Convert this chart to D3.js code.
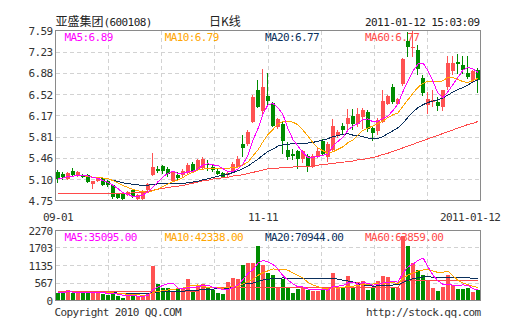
<!DOCTYPE html>
<html><head><meta charset="utf-8">
<script src="https://cdn.jsdelivr.net/npm/d3@7"></script>
<style>
html,body{margin:0;padding:0;background:#fff;}
svg{display:block;}
</style></head>
<body>
<svg id="chart" width="505" height="330"></svg>
<script>
const stockName = "亚盛集团";
const stockCode = "(600108)";
const chartTitle = "日K线";
const timestamp = "2011-01-12 15:03:09";

const opens = [5.23,5.19,5.11,5.25,5.16,5.18,5.17,5.02,5.08,5.12,
 5.08,5.01,4.86,4.86,4.84,4.92,4.78,4.78,4.93,5.17,
 5.28,5.32,5.28,5.08,5.18,5.17,5.21,5.36,5.28,5.29,
 5.36,5.31,5.25,5.21,5.17,5.25,5.31,5.69,5.70,6.06,
 6.60,6.24,6.50,6.38,5.98,6.03,5.60,5.53,5.58,5.45,
 5.50,5.31,5.50,5.75,5.48,5.59,5.85,5.99,6.02,6.16,
 6.02,6.14,6.23,5.96,5.91,6.06,6.37,6.65,6.37,6.69,
 7.42,7.31,7.27,6.80,6.34,6.39,6.39,6.31,6.64,6.91,
 7.06,7.01,6.88,6.76,6.93];
const highs = [5.26,5.22,5.23,5.30,5.24,5.20,5.20,5.08,5.13,5.14,
 5.10,5.03,4.88,4.89,4.91,4.94,4.86,4.92,5.05,5.55,
 5.32,5.35,5.31,5.24,5.22,5.27,5.37,5.39,5.44,5.48,
 5.42,5.34,5.28,5.23,5.24,5.40,5.50,5.84,5.93,6.52,
 6.76,6.95,6.88,6.40,6.13,6.08,5.72,5.61,5.60,5.60,
 5.52,5.52,5.62,5.78,5.73,6.11,5.93,6.04,6.28,6.28,
 6.29,6.29,6.26,5.98,6.12,6.59,6.52,6.69,6.47,7.13,
 7.56,7.58,7.34,6.84,6.56,6.59,6.48,6.60,7.17,7.17,
 7.20,7.17,7.17,6.93,6.96];
const lows = [5.05,5.10,5.09,5.16,5.14,5.13,5.05,4.95,5.06,4.99,
 4.98,4.78,4.77,4.75,4.82,4.79,4.76,4.75,4.91,5.16,
 5.21,5.20,5.15,5.06,5.10,5.15,5.19,5.22,5.26,5.27,
 5.25,5.22,5.18,5.13,5.15,5.23,5.29,5.47,5.66,6.04,
 6.30,6.20,6.33,5.98,5.95,5.53,5.42,5.42,5.28,5.38,
 5.22,5.29,5.46,5.50,5.40,5.57,5.80,5.84,5.92,5.93,
 5.98,5.95,5.89,5.75,5.85,6.04,6.35,6.37,6.34,6.66,
 7.15,7.15,6.85,6.50,6.19,6.31,6.24,6.25,6.60,6.84,
 6.87,6.87,6.78,6.73,6.54];
const closes = [5.11,5.14,5.21,5.17,5.22,5.14,5.06,5.07,5.12,5.01,
 5.01,4.81,4.79,4.77,4.89,4.81,4.84,4.90,5.03,5.31,
 5.24,5.24,5.20,5.22,5.12,5.25,5.35,5.25,5.42,5.45,
 5.34,5.26,5.20,5.15,5.21,5.36,5.44,5.63,5.89,6.48,
 6.32,6.64,6.42,6.00,6.11,5.75,5.47,5.50,5.45,5.58,
 5.33,5.50,5.58,5.53,5.70,5.99,5.89,5.93,6.13,6.02,
 6.20,6.26,5.95,5.88,6.09,6.41,6.49,6.39,6.45,7.11,
 7.32,7.32,6.95,6.54,6.45,6.43,6.33,6.59,7.04,7.05,
 7.03,6.93,6.81,6.91,6.77];
const volumes = [250,270,330,240,260,240,250,280,260,210,
 190,200,160,90,190,140,140,110,250,1130,
 540,400,420,300,370,370,700,340,480,550,
 400,350,230,220,600,720,700,1150,1230,1200,
 1770,1160,890,830,450,700,440,250,377,430,
 350,305,305,330,400,900,390,398,800,452,
 600,620,345,452,620,800,750,420,400,2100,
 1780,1220,1000,820,665,390,320,440,820,509,
 380,370,390,260,355];
// 60-day averages as drawn in the picture (window starts before the visible range)
const priceMA60 = [4.86,4.86,4.87,4.87,4.87,4.87,4.87,4.87,4.87,4.87,
 4.87,4.87,4.87,4.87,4.87,4.88,4.88,4.89,4.90,4.92,
 4.94,4.95,4.97,4.98,4.99,5.00,5.02,5.04,5.06,5.08,
 5.09,5.11,5.12,5.13,5.14,5.16,5.17,5.18,5.20,5.22,
 5.24,5.26,5.28,5.29,5.29,5.30,5.30,5.31,5.31,5.32,
 5.32,5.33,5.34,5.35,5.36,5.37,5.38,5.39,5.40,5.41,
 5.43,5.44,5.45,5.47,5.49,5.52,5.54,5.57,5.60,5.63,
 5.66,5.69,5.72,5.75,5.78,5.81,5.84,5.87,5.90,5.93,
 5.96,5.99,6.02,6.04,6.07];
const volumeMA60 = [285,285,285,285,285,285,285,285,285,285,
 285,285,285,285,285,285,285,285,285,285,
 285,285,285,285,285,285,285,285,285,425,
 425,425,425,425,425,425,425,425,425,425,
 425,425,425,425,425,425,425,425,425,425,
 425,425,425,425,425,425,425,425,425,425,
 425,425,425,425,425,425,425,425,425,635,
 635,635,635,635,635,635,635,635,635,635,
 635,635,635,635,635];

const priceTicks = ["7.59","7.23","6.88","6.52","6.17","5.81","5.46","5.10","4.75"];
const volumeTicks = ["2270","1703","1135","567","0"];
const xTickLabels = ["09-01","11-11","2011-01-12"];
const xTickIndex = [0,41,84];
const maNames = ["MA5","MA10","MA20","MA60"];
const maPeriods = [5,10,20];
const priceMALegend = ["6.89","6.79","6.77","6.77"];
const volumeMALegend = ["35095.00","42338.00","70944.00","63859.00"];
const footerLeft = "Copyright 2010 QQ.COM";
const footerRight = "http://stock.qq.com";

const RED = "#ff5252", GREEN = "#008c00";
const MA_COLORS = ["#ff00ff","#ffa500","#0a2f5c","#ff4a4a"];
const MONO = "'DejaVu Sans Mono', monospace";
const CJK = "'Noto Sans CJK SC', sans-serif";

const svg = d3.select("#chart");
const n = closes.length;
const idx = d3.range(n);
const L = 55.5, R = 480.5;
const x = d3.scaleBand().domain(idx).range([L, R]);
const yP = d3.scaleLinear().domain([4.75, 7.59]).range([200.5, 30.5]);
const yV = d3.scaleLinear().domain([0, 2270]).range([300.5, 230.5]);
const cx = i => x(i) + 2.5;
const crisp = v => Math.round(v - 0.5) + 0.5;

function movingAvg(arr, p) {
  return arr.map((_, i) => d3.mean(arr.slice(Math.max(0, i - p + 1), i + 1)));
}

function grid(y, ticks, top, bottom) {
  const g = svg.append("g").attr("stroke", "#d2d2d2").attr("stroke-dasharray", "4,3").attr("shape-rendering","crispEdges");
  ticks.slice(1, -1).forEach(t => {
    const yy = crisp(y(+t));
    g.append("line").attr("x1", L).attr("x2", R).attr("y1", yy).attr("y2", yy);
  });
  d3.range(1, 8).forEach(k => {
    const xx = crisp(L + k * (R - L) / 8);
    g.append("line").attr("x1", xx).attr("x2", xx).attr("y1", top).attr("y2", bottom);
  });
}
grid(yP, priceTicks, 30.5, 200.5);
grid(yV, volumeTicks, 230.5, 300.5);

function legend(values, baseY) {
  maNames.forEach((nm, k) => {
    svg.append("text").attr("x", 64.5 + k * 100.2).attr("y", baseY)
      .attr("font-family", MONO).attr("font-size", "11px").attr("letter-spacing", "-0.6px")
      .attr("fill", MA_COLORS[k]).text(nm + ":" + values[k]);
  });
}
legend(priceMALegend, 40.5);
legend(volumeMALegend, 240.5);

// candles
const isUp = i => closes[i] >= opens[i];
const cg = svg.append("g").attr("shape-rendering", "crispEdges");
cg.selectAll("line").data(idx).join("line")
  .attr("x1", i => Math.floor(x(i) + 2) + 0.5).attr("x2", i => Math.floor(x(i) + 2) + 0.5)
  .attr("y1", i => yP(highs[i])).attr("y2", i => yP(lows[i]))
  .attr("stroke", i => isUp(i) ? RED : GREEN).attr("stroke-width", 1);
cg.selectAll("rect").data(idx).join("rect")
  .attr("x", i => x(i) + 0.5).attr("width", 4)
  .attr("y", i => Math.round(yP(Math.max(opens[i], closes[i]))))
  .attr("height", i => Math.max(1, Math.round(yP(Math.min(opens[i], closes[i]))) - Math.round(yP(Math.max(opens[i], closes[i])))))
  .attr("fill", i => isUp(i) ? RED : GREEN);

// volume bars
svg.append("g").attr("shape-rendering", "crispEdges")
  .selectAll("rect").data(idx).join("rect")
  .attr("x", i => x(i) + 0.5).attr("width", 4)
  .attr("y", i => Math.round(yV(volumes[i])))
  .attr("height", i => 300 - Math.round(yV(volumes[i])) + 0.5)
  .attr("fill", i => isUp(i) ? RED : GREEN);

// MA lines
function drawLine(vals, y, color) {
  svg.append("path").datum(vals)
    .attr("d", d3.line().x((d, i) => cx(i)).y(d => y(d)))
    .attr("fill", "none").attr("stroke", color).attr("stroke-width", 1)
    .attr("shape-rendering", "crispEdges");
}
const priceMAs = maPeriods.map(p => movingAvg(closes, p)).concat([priceMA60]);
const volMAs = maPeriods.map(p => movingAvg(volumes, p)).concat([volumeMA60]);
[3, 2, 1, 0].forEach(k => drawLine(priceMAs[k], yP, MA_COLORS[k]));
[3, 2, 1, 0].forEach(k => drawLine(volMAs[k], yV, MA_COLORS[k]));

// frames
svg.append("rect").attr("x", L).attr("y", 30.5).attr("width", R - L).attr("height", 170)
  .attr("fill", "none").attr("stroke", "#8a8a8a");
svg.append("rect").attr("x", L).attr("y", 230.5).attr("width", R - L).attr("height", 70)
  .attr("fill", "none").attr("stroke", "#8a8a8a");

// axis labels
const axisText = (s, xx, yy, anchor) => svg.append("text").attr("x", xx).attr("y", yy)
  .attr("text-anchor", anchor).attr("font-family", MONO).attr("font-size", "11px")
  .attr("letter-spacing", "-0.6px").attr("fill", "#333").text(s);
priceTicks.forEach(t => axisText(t, 52.5, yP(+t) + 4, "end"));
volumeTicks.forEach(t => axisText(t, 52.5, yV(+t) + 4, "end"));
xTickLabels.forEach((s, k) => {
  const w = s.length * 6;
  let left = cx(xTickIndex[k]) - w / 2;
  left = Math.min(left, 500 - w);
  axisText(s, left, 221, "start");
});

// header
const h = svg.append("text").attr("x", 55.5).attr("y", 26).attr("fill", "#222");
h.append("tspan").attr("font-family", CJK).attr("font-size", "12px").text(stockName);
h.append("tspan").attr("font-family", MONO).attr("font-size", "11px").attr("letter-spacing", "-0.6px").text(stockCode);
svg.append("text").attr("x", 225).attr("y", 26).attr("text-anchor", "middle")
  .attr("font-family", CJK).attr("font-size", "12px").attr("fill", "#222").text(chartTitle);
axisText(timestamp, 479.5, 26, "end").attr("fill", "#222");

// footer
axisText(footerLeft, 54.5, 316, "start");
axisText(footerRight, 480.5, 316, "end");
</script>
</body></html>
